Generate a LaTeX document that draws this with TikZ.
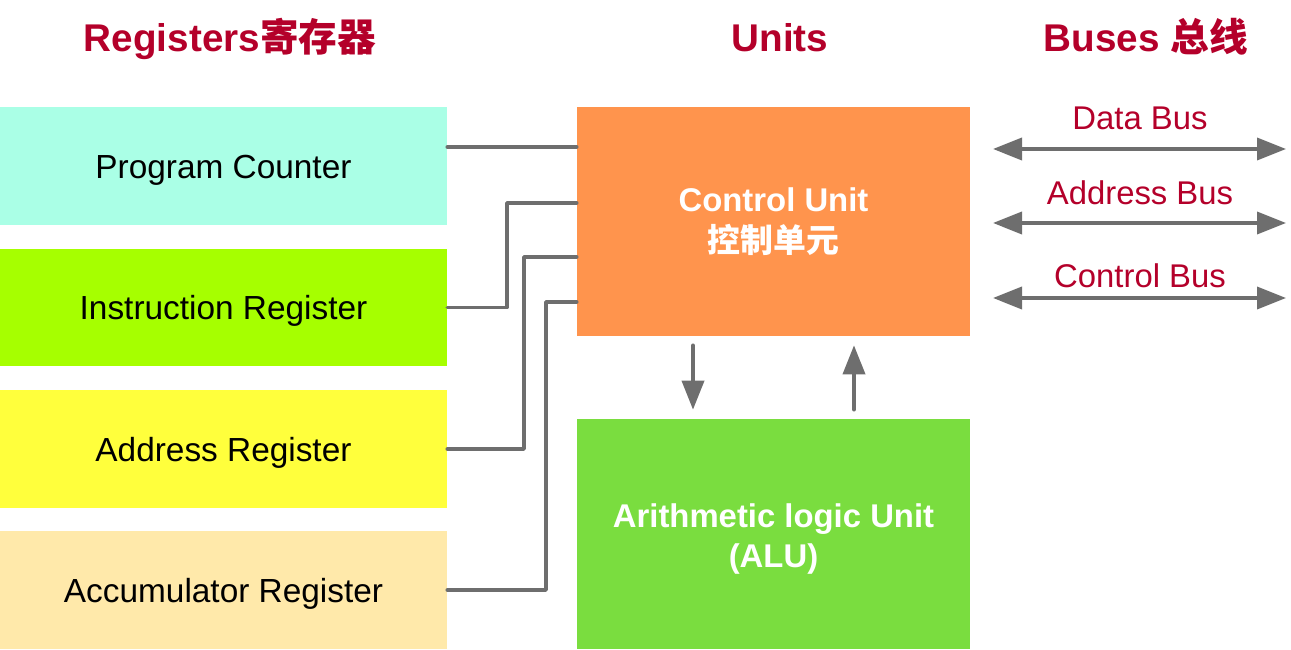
\documentclass[tikz,border=0pt]{standalone}
\usepackage{fontspec}
\setmainfont{Liberation Sans}
\newfontfamily\cjk{Noto Sans CJK SC}
\usepackage{xcolor}
\usetikzlibrary{arrows.meta}
\definecolor{pcfill}{HTML}{AAFFE6}
\definecolor{irfill}{HTML}{A6FF00}
\definecolor{arfill}{HTML}{FFFF3C}
\definecolor{accfill}{HTML}{FFE9AA}
\definecolor{cufill}{HTML}{FF944D}
\definecolor{alufill}{HTML}{7ADD3F}
\definecolor{wiregray}{HTML}{6E6E6E}
\definecolor{headred}{HTML}{B4002A}
\tikzset{
  every picture/.style={line join=round, line cap=round, >=Stealth},
  reg/.style={minimum width=8.94cm, minimum height=2.36cm, inner sep=0pt,
    text height=13.7pt, text depth=0pt,
    font=\fontsize{19pt}{23pt}\selectfont},
  unit/.style={minimum width=7.86cm, inner sep=0pt, align=center, text=white,
    font=\fontsize{18.7pt}{23pt}\selectfont\bfseries},
  wire/.style={draw=wiregray, line width=2.1pt},
  flow/.style={wire, -{Triangle[length=0.58cm, width=0.44cm]}},
  bus/.style={wire, {Triangle[length=0.58cm, width=0.44cm]}-{Triangle[length=0.58cm, width=0.44cm]}},
  head/.style={anchor=base, text=headred, font=\fontsize{22pt}{26pt}\selectfont\bfseries},
  buslabel/.style={text=headred, font=\fontsize{18.7pt}{23pt}\selectfont},
}

\begin{document}
\begin{tikzpicture}[x=0.02cm, y=0.02cm]
\useasboundingbox (0,0) rectangle (1291,649);
% headings
\node[head] (hreg) at (230,597) {Registers{\cjk 寄存器}};
\node[head] (hunit) at (780,597) {Units};
\node[head] (hbus) at (1146,597) {Buses {\cjk 总线}};
% registers
\node[reg, fill=pcfill] (pc) at (223.5,483) {Program Counter};
\node[reg, fill=irfill] (ir) at (223.5,341.5) {Instruction Register};
\node[reg, fill=arfill] (ar) at (223.5,200) {Address Register};
\node[reg, fill=accfill] (acc) at (223.5,59) {Accumulator Register};
% units
\node[unit, fill=cufill, minimum height=4.58cm] (cu) at (773.5,427.5) {Control Unit\\{\cjk 控制单元}};
\node[unit, fill=alufill, minimum height=4.6cm] (alu) at (773.5,115) {\rule{0pt}{0.68cm}Arithmetic logic Unit\\(ALU)};
% register wires
\draw[wire] (pc.east |- 0,502) -- (cu.west |- 0,502);
\draw[wire] (ir.east) -| (507,446) -- (cu.west |- 0,446);
\draw[wire] (ar.east) -| (524,392) -- (cu.west |- 0,392);
\draw[wire] (acc.east) -| (546,347) -- (cu.west |- 0,347);
% control unit <-> alu
\draw[flow, shorten <=0.18cm, shorten >=0.18cm] (cu.south -| 693,0) -- (alu.north -| 693,0);
\draw[flow, shorten <=0.18cm, shorten >=0.18cm] (alu.north -| 854,0) -- (cu.south -| 854,0);
% buses
\coordinate (dbl) at (993,500); \coordinate (dbr) at (1286,500);
\coordinate (abl) at (993,426); \coordinate (abr) at (1286,426);
\coordinate (cbl) at (993,351); \coordinate (cbr) at (1286,351);
\draw[bus] (dbl) -- (dbr);
\draw[bus] (abl) -- (abr);
\draw[bus] (cbl) -- (cbr);
\node[buslabel] (dbt) at (1140,531) {Data Bus};
\node[buslabel] (abt) at (1140,456) {Address Bus};
\node[buslabel] (cbt) at (1140,373) {Control Bus};
\end{tikzpicture}
\end{document}
